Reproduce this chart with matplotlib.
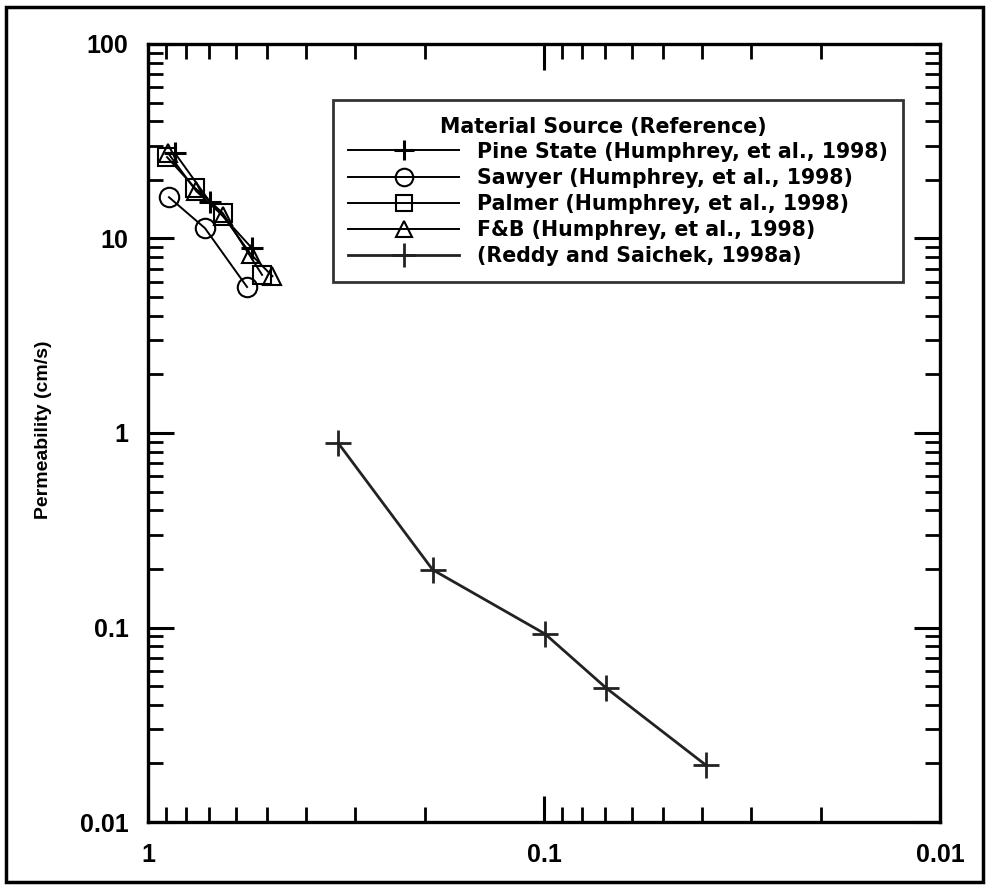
import matplotlib
matplotlib.use("Agg")
import matplotlib.pyplot as plt
from matplotlib.ticker import LogLocator, NullFormatter, FixedLocator, FixedFormatter
from matplotlib.patches import Rectangle
from matplotlib import font_manager
from matplotlib.font_manager import FontProperties

# ---- data ----
pine_x = [0.855, 0.697, 0.546]
pine_y = [27.5, 15.4, 8.9]
sawyer_x = [0.885, 0.718, 0.562]
sawyer_y = [16.3, 11.3, 5.63]
palmer_x = [0.895, 0.761, 0.647, 0.515]
palmer_y = [26.2, 18.2, 13.5, 6.5]
fb_x = [0.89, 0.755, 0.645, 0.55, 0.485]
fb_y = [27.5, 17.5, 13.0, 8.3, 6.4]
reddy_x = [0.331, 0.191, 0.0994, 0.0697, 0.039]
reddy_y = [0.889, 0.198, 0.0927, 0.0489, 0.0196]

labels = ["Pine State (Humphrey, et al., 1998)",
          "Sawyer (Humphrey, et al., 1998)",
          "Palmer (Humphrey, et al., 1998)",
          "F&B (Humphrey, et al., 1998)",
          "(Reddy and Saichek, 1998a)"]
xticks = [1, 0.1, 0.01]
xticklabels = ["1", "0.1", "0.01"]
yticks = [0.01, 0.1, 1, 10, 100]
yticklabels = ["0.01", "0.1", "1", "10", "100"]
ylabel = "Permeability (cm/s)"
legend_title = "Material Source (Reference)"


def font_file(stem):
    for f in font_manager.fontManager.ttflist:
        if f.fname.endswith(stem):
            return f.fname
    return None


bold_file = font_file("LiberationSans-Bold.ttf")
if bold_file:
    tick_fp = FontProperties(fname=bold_file, size=18)
    ylab_fp = FontProperties(fname=bold_file, size=14)
else:
    tick_fp = FontProperties(family="DejaVu Sans", weight="bold", size=18)
    ylab_fp = FontProperties(family="DejaVu Sans", weight="bold", size=14)

plt.rcParams["font.family"] = ["DejaVu Sans"]

fig = plt.figure(figsize=(9.89, 8.88), dpi=100)
ax = fig.add_axes([0.1496, 0.0743, 0.8009, 0.8762])

lw = 1.4
ax.plot(pine_x, pine_y, color="black", lw=lw, marker="+", ms=16, mew=2.2, label=labels[0])
ax.plot(sawyer_x, sawyer_y, color="black", lw=lw, marker="o", ms=14, mfc="none", mew=1.5, label=labels[1])
ax.plot(palmer_x, palmer_y, color="black", lw=lw, marker="s", ms=13, mfc="none", mew=1.5, label=labels[2])
ax.plot(fb_x, fb_y, color="black", lw=lw, marker="^", ms=13, mfc="none", mew=1.5, label=labels[3])
ax.plot(reddy_x, reddy_y, color="#222222", lw=2.0, marker="+", ms=19, mew=2.0, label=labels[4])

ax.set_xscale("log")
ax.set_yscale("log")
ax.set_xlim(1, 0.01)
ax.set_ylim(0.01, 100)

ax.xaxis.set_major_locator(FixedLocator(xticks))
ax.xaxis.set_major_formatter(FixedFormatter(xticklabels))
ax.yaxis.set_major_locator(FixedLocator(yticks))
ax.yaxis.set_major_formatter(FixedFormatter(yticklabels))
ax.xaxis.set_minor_locator(LogLocator(base=10, subs=range(2, 10)))
ax.yaxis.set_minor_locator(LogLocator(base=10, subs=range(2, 10)))
ax.xaxis.set_minor_formatter(NullFormatter())
ax.yaxis.set_minor_formatter(NullFormatter())

ax.tick_params(which="both", direction="in", top=True, right=True, color="black")
ax.tick_params(which="major", length=19, width=2.2)
ax.tick_params(which="minor", length=10.5, width=2.0)
ax.tick_params(axis="y", which="major", pad=14)
ax.tick_params(axis="x", which="major", pad=15)
for lab in ax.get_xticklabels() + ax.get_yticklabels():
    lab.set_fontproperties(tick_fp)
for s in ax.spines.values():
    s.set_linewidth(2.4)

ax.set_ylabel(ylabel, fontproperties=ylab_fp)
ax.yaxis.set_label_coords(-0.121, 0.504)

leg_font = FontProperties(family="DejaVu Sans", size=14.8, weight="bold")
leg = ax.legend(title=legend_title, loc="upper left", bbox_to_anchor=(0.2336, 0.928),
                prop=leg_font, title_fontproperties=leg_font, frameon=True, fancybox=False,
                edgecolor="black", handlelength=5.4, handletextpad=0.85,
                labelspacing=0.30, borderpad=0.75, markerscale=0.9, borderaxespad=0)
leg.get_frame().set_linewidth(2.0)
# title sits slightly left of centre in the original
leg.get_title().set_position((-15, -2))

fig.patches.append(Rectangle((0.006, 0.007), 0.988, 0.985, transform=fig.transFigure,
                             fill=False, edgecolor="black", linewidth=2.5))

fig.savefig("out.png", dpi=100)
